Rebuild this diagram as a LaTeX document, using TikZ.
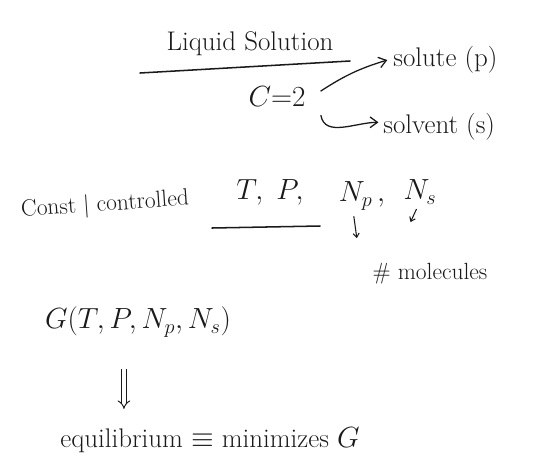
\documentclass[tikz,border=0pt]{standalone}
\usepackage{tikz}
\usetikzlibrary{arrows.meta,positioning}
\definecolor{INK}{HTML}{1A1A1A}

\begin{document}
\begin{tikzpicture}[
  x=0.03cm, y=-0.03cm,
  font=\fontsize{23}{27}\selectfont,
  txt/.style={text=INK, inner sep=1pt},
  small/.style={txt, font=\fontsize{20}{24}\selectfont},
  rule/.style={draw=INK, line width=1.3pt, line cap=round},
  arr/.style={-{Straight Barb[length=2.2mm, width=3.2mm]}, draw=INK, line width=1.1pt, line cap=round},
  tick/.style={-{Straight Barb[length=1.2mm, width=1.8mm]}, draw=INK, line width=0.9pt},
  dbl/.style={-{Implies}, double, double distance=3pt, draw=INK, line width=0.8pt},
]
\useasboundingbox (0,0) rectangle (543,466);

% liquid solution
\node[txt] (liq) at (250,44) {Liquid Solution};
\coordinate (ulA) at (140,73);
\coordinate (ulB) at (350,61);
\draw[rule] (ulA) -- (ulB);
\node[txt] (c2) at (277,97) {$C{=}2$};
\node[txt, anchor=west] (solute) at (392,60) {solute (p)};
\node[txt, anchor=west] (solvent) at (382,127) {solvent (s)};
\draw[arr] (c2.east) ++(14,-6) to[bend left=8] ([xshift=-4pt]solute.west);
\draw[arr] ([xshift=12pt, yshift=-6pt]c2.south east) to[out=-80, in=180] ([xshift=-3pt, yshift=4pt]solvent.west);

% controlled variables
\node[small, rotate=4] (const) at (105,205) {Const | controlled};
\node[txt] (TP) at (270,192) {$T,\ P,$};
\node[txt] (Np) at (362,196) {$N_p\,,$};
\node[txt] (Ns) at (420,192) {$N_s$};
\coordinate (ulC) at (212,228);
\coordinate (ulD) at (320,226);
\draw[rule] (ulC) -- (ulD);
\node[small] (mol) at (430,274) {\# molecules};
\draw[tick] ([xshift=-7pt, yshift=-4pt]Np.south) -- ++(3,22);
\draw[tick] ([xshift=-3pt, yshift=-3pt]Ns.south) -- ++(-6,13);

% gibbs energy
\node[txt, font=\fontsize{26}{30}\selectfont] (G) at (138,322) {$G(T, P, N_p, N_s)$};
\node[txt] (eq) at (210,440) {equilibrium $\equiv$ minimizes $G$};
\draw[dbl] ([xshift=-12pt, yshift=-26pt]G.south) -- ++(0,40);

\end{tikzpicture}
\end{document}
